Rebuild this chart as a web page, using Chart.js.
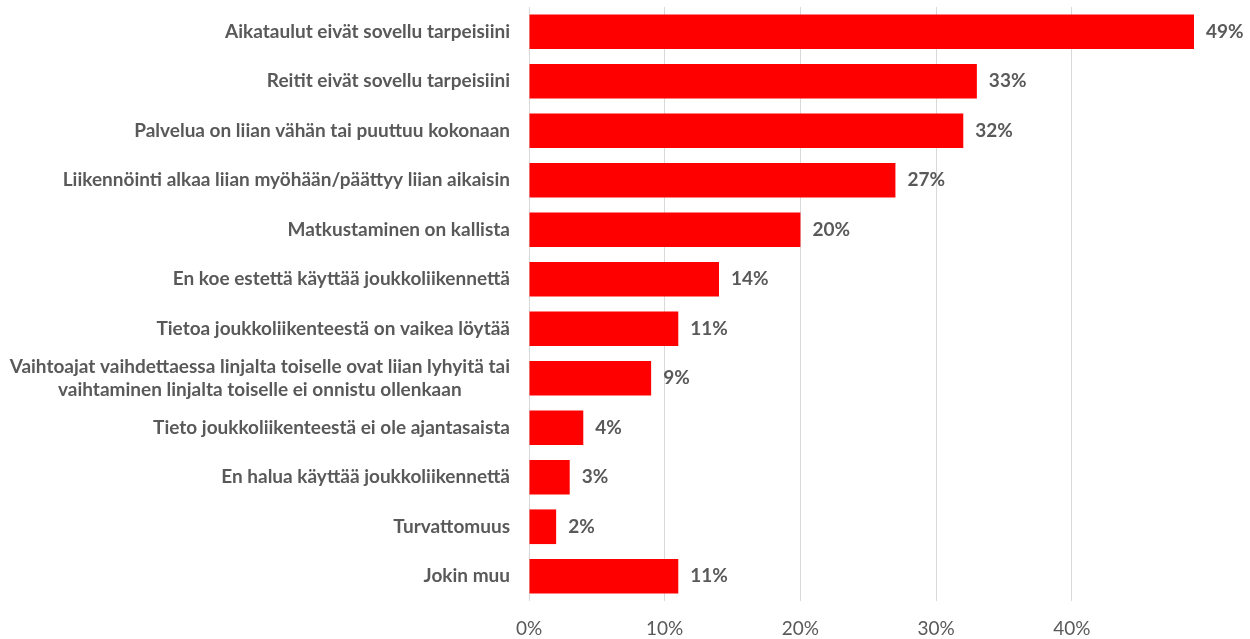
<!DOCTYPE html>
<html>
<head>
<meta charset="utf-8">
<script src="https://cdn.jsdelivr.net/npm/chart.js@4"></script>
<style>
  html, body { margin: 0; padding: 0; background: #fff; }
  #wrap { width: 1250px; height: 639px; position: relative; }
</style>
</head>
<body>
<div id="wrap"><canvas id="chart"></canvas></div>
<script>
// --- Survey data: reasons for not using public transport ---
const categories = [
  "Aikataulut eivät sovellu tarpeisiini",
  "Reitit eivät sovellu tarpeisiini",
  "Palvelua on liian vähän tai puuttuu kokonaan",
  "Liikennöinti alkaa liian myöhään/päättyy liian aikaisin",
  "Matkustaminen on kallista",
  "En koe estettä käyttää joukkoliikennettä",
  "Tietoa joukkoliikenteestä on vaikea löytää",
  ["Vaihtoajat vaihdettaessa linjalta toiselle ovat liian lyhyitä tai",
   "vaihtaminen linjalta toiselle ei onnistu ollenkaan"],
  "Tieto joukkoliikenteestä ei ole ajantasaista",
  "En halua käyttää joukkoliikennettä",
  "Turvattomuus",
  "Jokin muu"
];
const shares = [49, 33, 32, 27, 20, 14, 11, 9, 4, 3, 2, 11];
const axisTicks = [0, 10, 20, 30, 40];
const axisMax = 49;

const TEXT = "#595959";
const FONT = "Lato, 'Open Sans', sans-serif";

// Category labels: single lines right-aligned, wrapped lines centred on each other
const categoryLabels = {
  id: "categoryLabels",
  afterDraw(chart) {
    const ctx = chart.ctx;
    const yScale = chart.scales.y;
    const right = chart.chartArea.left - 19;
    ctx.save();
    ctx.font = "bold 19px " + FONT;
    ctx.fillStyle = TEXT;
    ctx.textBaseline = "middle";
    categories.forEach((label, i) => {
      const y = yScale.getPixelForTick(i);
      if (Array.isArray(label)) {
        const widest = Math.max(...label.map((l) => ctx.measureText(l).width));
        const cx = right - widest / 2;
        const lh = 23;
        ctx.textAlign = "center";
        label.forEach((line, j) => {
          ctx.fillText(line, cx, y + (j - (label.length - 1) / 2) * lh);
        });
      } else {
        ctx.textAlign = "right";
        ctx.fillText(label, right, y);
      }
    });
    ctx.restore();
  }
};

// Value labels just past the end of each bar
const valueLabels = {
  id: "valueLabels",
  afterDatasetsDraw(chart) {
    const ctx = chart.ctx;
    const meta = chart.getDatasetMeta(0);
    ctx.save();
    ctx.font = "bold 19px " + FONT;
    ctx.fillStyle = TEXT;
    ctx.textAlign = "left";
    ctx.textBaseline = "middle";
    meta.data.forEach((bar, i) => {
      ctx.fillText(shares[i] + "%", bar.x + 12, bar.y);
    });
    ctx.restore();
  }
};

new Chart(document.getElementById("chart"), {
  type: "bar",
  data: {
    labels: categories,
    datasets: [{
      data: shares,
      backgroundColor: "#FF0000",
      borderWidth: 0,
      categoryPercentage: 1,
      barPercentage: 0.7
    }]
  },
  options: {
    indexAxis: "y",
    responsive: true,
    maintainAspectRatio: false,
    animation: false,
    layout: { padding: { left: 529, right: 56, top: 7, bottom: 0 } },
    plugins: {
      legend: { display: false },
      tooltip: { enabled: false }
    },
    scales: {
      x: {
        min: 0,
        max: axisMax,
        afterBuildTicks: (scale) => {
          scale.ticks = axisTicks.map((v) => ({ value: v }));
        },
        afterFit: (scale) => { scale.height = 38; },
        border: { display: false },
        grid: { color: "#D9D9D9", lineWidth: 1, drawTicks: false },
        ticks: {
          padding: 16,
          color: TEXT,
          font: { family: FONT, size: 19 },
          callback: (v) => v + "%"
        }
      },
      y: {
        afterFit: (scale) => { scale.width = 0; },
        ticks: { display: false },
        grid: { display: false, drawTicks: false },
        border: { display: false }
      }
    }
  },
  plugins: [categoryLabels, valueLabels]
});
</script>
</body>
</html>
